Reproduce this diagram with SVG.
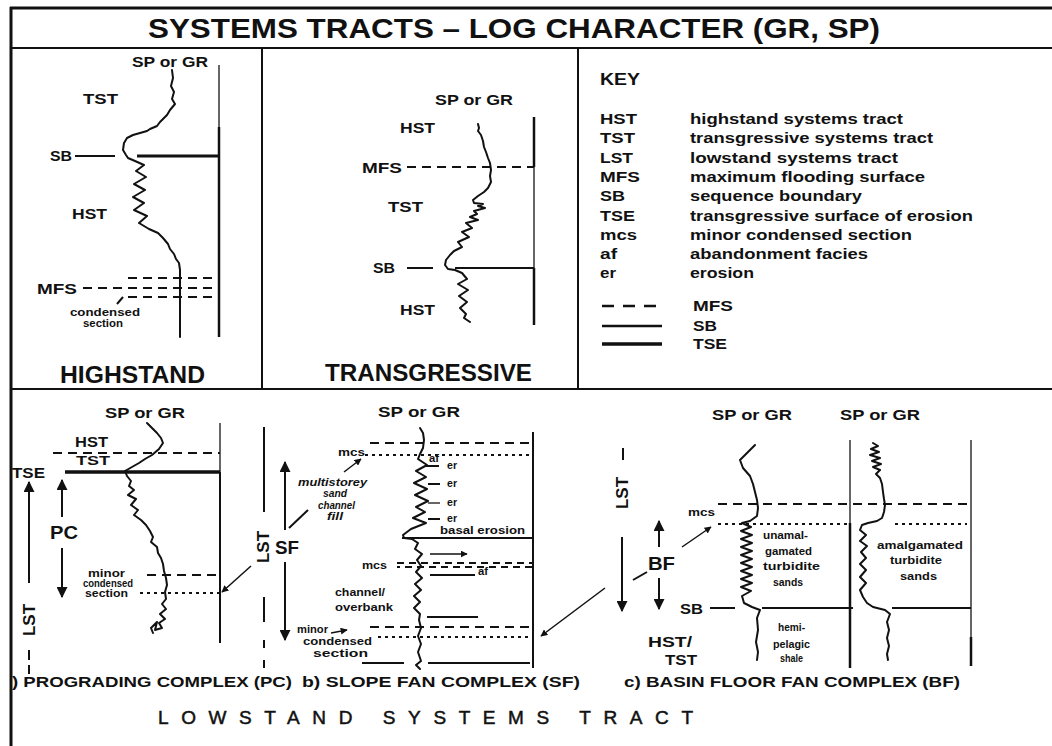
<svg xmlns="http://www.w3.org/2000/svg" width="1052" height="746" viewBox="0 0 1052 746">
<style>
text{font-family:"Liberation Sans",Arial,sans-serif;font-weight:bold;fill:#111}
.s15{font-size:15px}
.s11{font-size:11px}
.s10{font-size:10px}
.s18{font-size:18px}
.s23{font-size:23px}
.ln{stroke:#111;fill:none;stroke-width:2}
.thin{stroke:#333;fill:none;stroke-width:1.5}
.thk{stroke:#111;fill:none;stroke-width:3}
.dash{stroke:#111;fill:none;stroke-width:2;stroke-dasharray:9 6}
.dot{stroke:#111;fill:none;stroke-width:2;stroke-dasharray:3 4}
.log{stroke:#111;fill:none;stroke-width:2;stroke-linejoin:round;stroke-linecap:round}
.arr{stroke:#111;fill:none;stroke-width:2;marker-end:url(#ah)}
.sarr{stroke:#111;fill:none;stroke-width:1.5;marker-end:url(#sh)}
</style>
<defs>
<marker id="ah" viewBox="0 0 10 10" refX="9" refY="5" markerWidth="11" markerHeight="11" markerUnits="userSpaceOnUse" orient="auto"><path d="M0,0 L10,5 L0,10 Z" fill="#111"/></marker>
<marker id="sh" viewBox="0 0 10 10" refX="9" refY="5" markerWidth="7" markerHeight="7" markerUnits="userSpaceOnUse" orient="auto"><path d="M0,0 L10,5 L0,10 Z" fill="#111"/></marker>
</defs>
<rect width="1052" height="746" fill="#fff"/>

<g id="frame">
<line x1="10" y1="8" x2="1052" y2="8" stroke="#111" stroke-width="3"/>
<line x1="11" y1="7" x2="11" y2="746" stroke="#111" stroke-width="3"/>
<line x1="10" y1="48" x2="1052" y2="48" stroke="#111" stroke-width="2"/>
<line x1="10" y1="389" x2="1052" y2="389" stroke="#111" stroke-width="2"/>
<line x1="262" y1="48" x2="262" y2="389" stroke="#111" stroke-width="2"/>
<line x1="578" y1="48" x2="578" y2="389" stroke="#111" stroke-width="2"/>
<text x="148" y="38" style="font-size:28px" textLength="732" lengthAdjust="spacingAndGlyphs">SYSTEMS TRACTS – LOG CHARACTER (GR, SP)</text>
</g>

<g id="highstand">
<text class="s15" x="132" y="67" textLength="76" lengthAdjust="spacingAndGlyphs">SP or GR</text>
<text class="s15" x="83" y="104" textLength="35" lengthAdjust="spacingAndGlyphs">TST</text>
<text class="s15" x="50" y="161" textLength="22" lengthAdjust="spacingAndGlyphs">SB</text>
<text class="s15" x="72" y="219" textLength="35" lengthAdjust="spacingAndGlyphs">HST</text>
<text class="s15" x="37" y="294" textLength="40" lengthAdjust="spacingAndGlyphs">MFS</text>
<text class="s11" x="70" y="316" textLength="70" lengthAdjust="spacingAndGlyphs">condensed</text>
<text class="s11" x="83" y="327" textLength="40" lengthAdjust="spacingAndGlyphs">section</text>
<text class="s23" x="60" y="383" textLength="145" lengthAdjust="spacingAndGlyphs">HIGHSTAND</text>
<path class="log" d="M172,70 L173,78 L171,86 L174,92 L172,99 L175,104 L170,110 L167,115 L160,122 L157,126 L150,129 L147,131 L140,133 L133,135 L127,138 L124,143 L123,150 L126,155 L128,158 L135,161 L144,165 L136,171 L146,177 L134,184 L145,190 L133,197 L144,203 L134,210 L147,216 L139,223 L149,229 L158,233 L163,238 L168,244 L170,249 L174,254 L176,259 L179,263 L180,270 L180,337"/>
<line class="thin" x1="219" y1="65" x2="219" y2="127"/>
<line x1="219" y1="127" x2="219" y2="337" stroke="#111" stroke-width="2.5"/>
<line class="ln" x1="75" y1="156" x2="115" y2="156"/>
<line class="thk" x1="137" y1="156" x2="219" y2="156"/>
<line class="dash" x1="128" y1="278" x2="219" y2="278"/>
<line class="dash" x1="83" y1="288" x2="219" y2="288"/>
<line class="dash" x1="128" y1="297" x2="219" y2="297"/>
<line class="ln" x1="117" y1="304" x2="123" y2="297"/>
</g>

<g id="transgressive">
<text class="s15" x="435" y="105" textLength="78" lengthAdjust="spacingAndGlyphs">SP or GR</text>
<text class="s15" x="400" y="133" textLength="35" lengthAdjust="spacingAndGlyphs">HST</text>
<text class="s15" x="362" y="173" textLength="40" lengthAdjust="spacingAndGlyphs">MFS</text>
<text class="s15" x="388" y="212" textLength="35" lengthAdjust="spacingAndGlyphs">TST</text>
<text class="s15" x="373" y="273" textLength="22" lengthAdjust="spacingAndGlyphs">SB</text>
<text class="s15" x="400" y="315" textLength="35" lengthAdjust="spacingAndGlyphs">HST</text>
<text class="s23" x="325" y="381" textLength="207" lengthAdjust="spacingAndGlyphs">TRANSGRESSIVE</text>
<path class="log" d="M478,124 L479,128 L478,131 L481,135 L483,141 L484,147 L486,152 L488,158 L490,163 L491,170 L490,176 L491,182 L488,188 L484,192 L478,196 L473,200 L474,203 L483,204 L478,206 L485,208 L474,211 L477,214 L470,217 L478,220 L466,223 L472,228 L462,232 L469,237 L458,242 L462,247 L454,251 L450,255 L446,260 L445,265 L448,269 L455,270 L462,273 L467,279 L458,284 L468,290 L459,296 L467,302 L460,308 L466,314 L464,318 L470,322"/>
<line x1="534" y1="117" x2="534" y2="167" stroke="#111" stroke-width="2.5"/>
<line class="thin" x1="534" y1="167" x2="534" y2="268"/>
<line x1="534" y1="268" x2="534" y2="325" stroke="#111" stroke-width="2.5"/>
<line class="dash" x1="407" y1="167" x2="534" y2="167"/>
<line class="ln" x1="407" y1="268" x2="433" y2="268"/>
<line class="ln" x1="455" y1="268" x2="534" y2="268"/>
</g>

<g id="key">
<text x="600" y="85" style="font-size:16px" textLength="40" lengthAdjust="spacingAndGlyphs">KEY</text>
<g class="s15">
<text x="600" y="124" textLength="37" lengthAdjust="spacingAndGlyphs">HST</text>
<text x="600" y="143" textLength="35" lengthAdjust="spacingAndGlyphs">TST</text>
<text x="600" y="163" textLength="33" lengthAdjust="spacingAndGlyphs">LST</text>
<text x="600" y="182" textLength="40" lengthAdjust="spacingAndGlyphs">MFS</text>
<text x="600" y="201" textLength="25" lengthAdjust="spacingAndGlyphs">SB</text>
<text x="600" y="221" textLength="35" lengthAdjust="spacingAndGlyphs">TSE</text>
<text x="600" y="240" textLength="37" lengthAdjust="spacingAndGlyphs">mcs</text>
<text x="600" y="259" textLength="17" lengthAdjust="spacingAndGlyphs">af</text>
<text x="600" y="278" textLength="16" lengthAdjust="spacingAndGlyphs">er</text>
<text x="690" y="124" textLength="213" lengthAdjust="spacingAndGlyphs">highstand systems tract</text>
<text x="690" y="143" textLength="243" lengthAdjust="spacingAndGlyphs">transgressive systems tract</text>
<text x="690" y="163" textLength="208" lengthAdjust="spacingAndGlyphs">lowstand systems tract</text>
<text x="690" y="182" textLength="235" lengthAdjust="spacingAndGlyphs">maximum flooding surface</text>
<text x="690" y="201" textLength="172" lengthAdjust="spacingAndGlyphs">sequence boundary</text>
<text x="690" y="221" textLength="283" lengthAdjust="spacingAndGlyphs">transgressive surface of erosion</text>
<text x="690" y="240" textLength="222" lengthAdjust="spacingAndGlyphs">minor condensed section</text>
<text x="690" y="259" textLength="178" lengthAdjust="spacingAndGlyphs">abandonment facies</text>
<text x="690" y="278" textLength="64" lengthAdjust="spacingAndGlyphs">erosion</text>
<text x="693" y="311" textLength="40" lengthAdjust="spacingAndGlyphs">MFS</text>
<text x="693" y="331" textLength="24" lengthAdjust="spacingAndGlyphs">SB</text>
<text x="693" y="349" textLength="34" lengthAdjust="spacingAndGlyphs">TSE</text>
</g>
<line x1="602" y1="306" x2="662" y2="306" stroke="#111" stroke-width="2.5" stroke-dasharray="12 9"/>
<line x1="602" y1="326" x2="662" y2="326" stroke="#111" stroke-width="2.5"/>
<line x1="602" y1="344" x2="662" y2="344" stroke="#111" stroke-width="3.5"/>
</g>

<g id="prograding-complex">
<text class="s15" x="105" y="418" textLength="80" lengthAdjust="spacingAndGlyphs">SP or GR</text>
<text class="s15" x="75" y="447" textLength="33" lengthAdjust="spacingAndGlyphs">HST</text>
<text x="76" y="465" style="font-size:13px" textLength="34" lengthAdjust="spacingAndGlyphs">TST</text>
<text class="s15" x="12" y="478" textLength="33" lengthAdjust="spacingAndGlyphs">TSE</text>
<text class="s18" x="50" y="539" textLength="28" lengthAdjust="spacingAndGlyphs">PC</text>
<text x="29" y="626" transform="rotate(-90 29 620)" text-anchor="middle" style="font-size:17px" textLength="32" lengthAdjust="spacingAndGlyphs">LST</text>
<text class="s10" x="88" y="577" textLength="37" lengthAdjust="spacingAndGlyphs">minor</text>
<text class="s10" x="83" y="587" textLength="50" lengthAdjust="spacingAndGlyphs">condensed</text>
<text class="s10" x="85" y="597" textLength="43" lengthAdjust="spacingAndGlyphs">section</text>
<path class="log" d="M147,423 L152,428 L157,433 L161,438 L163,443 L159,449 L152,455 L145,459 L139,463 L132,467 L125,471 L127,476 L131,481 L129,486 L134,490 L128,495 L136,499 L131,505 L138,510 L134,515 L141,520 L146,525 L150,531 L153,537 L151,542 L157,547 L158,553 L161,558 L163,564 L164,571 L166,578 L167,585 L165,592 L166,599 L162,604 L166,609 L160,614 L165,619 L159,623 L162,628 L155,630 L157,622 L151,628 L153,633"/>
<line class="thin" x1="220" y1="423" x2="220" y2="472" stroke="#666"/>
<line class="ln" x1="220" y1="472" x2="220" y2="643"/>
<line class="dash" x1="53" y1="453" x2="220" y2="453"/>
<line x1="65" y1="472" x2="220" y2="472" stroke="#111" stroke-width="3.5"/>
<line class="dash" x1="147" y1="575" x2="220" y2="575"/>
<line class="dot" x1="140" y1="593" x2="220" y2="593"/>
<line class="ln" x1="29" y1="650" x2="29" y2="660"/>
<line class="ln" x1="29" y1="665" x2="29" y2="674"/>
</g>

<g id="slope-fan-complex">
<text class="s15" x="378" y="417" textLength="82" lengthAdjust="spacingAndGlyphs">SP or GR</text>
<text x="263" y="553" transform="rotate(-90 263 547)" text-anchor="middle" style="font-size:17px" textLength="32" lengthAdjust="spacingAndGlyphs">LST</text>
<text class="s18" x="275" y="554" textLength="24" lengthAdjust="spacingAndGlyphs">SF</text>
<text class="s10" x="338" y="456" textLength="27" lengthAdjust="spacingAndGlyphs">mcs</text>
<text class="s10" x="298" y="486" textLength="69" lengthAdjust="spacingAndGlyphs" font-style="italic">multistorey</text>
<text class="s10" x="323" y="497" textLength="24" lengthAdjust="spacingAndGlyphs" font-style="italic">sand</text>
<text class="s10" x="318" y="509" textLength="37" lengthAdjust="spacingAndGlyphs" font-style="italic">channel</text>
<text class="s10" x="327" y="520" textLength="16" lengthAdjust="spacingAndGlyphs" font-style="italic">fill</text>
<text class="s10" x="429" y="462" textLength="10" lengthAdjust="spacingAndGlyphs">af</text>
<text class="s10" x="447" y="469" textLength="10" lengthAdjust="spacingAndGlyphs">er</text>
<text class="s10" x="447" y="487" textLength="10" lengthAdjust="spacingAndGlyphs">er</text>
<text class="s10" x="447" y="506" textLength="10" lengthAdjust="spacingAndGlyphs">er</text>
<text class="s10" x="447" y="522" textLength="10" lengthAdjust="spacingAndGlyphs">er</text>
<text class="s11" x="440" y="534" textLength="85" lengthAdjust="spacingAndGlyphs">basal erosion</text>
<text class="s10" x="362" y="569" textLength="25" lengthAdjust="spacingAndGlyphs">mcs</text>
<text class="s10" x="478" y="575" textLength="10" lengthAdjust="spacingAndGlyphs">af</text>
<text class="s11" x="335" y="596" textLength="50" lengthAdjust="spacingAndGlyphs">channel/</text>
<text class="s11" x="335" y="611" textLength="58" lengthAdjust="spacingAndGlyphs">overbank</text>
<text class="s11" x="297" y="633" textLength="31" lengthAdjust="spacingAndGlyphs">minor</text>
<text class="s11" x="303" y="645" textLength="69" lengthAdjust="spacingAndGlyphs">condensed</text>
<text class="s11" x="313" y="657" textLength="55" lengthAdjust="spacingAndGlyphs">section</text>
<path class="log" d="M420,428 L423,433 L424,440 L423,448 L420,454 L418,459 L427,465 L416,471 L426,477 L414,483 L427,489 L415,495 L428,501 L416,507 L425,512 L413,518 L426,523 L411,529 L403,535 L404,538 L412,539 L418,543 L415,549 L422,554 L417,560 L421,566 L416,572 L422,578 L415,584 L421,590 L414,596 L420,602 L414,608 L420,614 L419,620 L421,628 L418,636 L421,644 L418,652 L420,658 L421,661 L416,665 L420,669"/>
<line class="ln" x1="264" y1="427" x2="264" y2="512"/>
<line class="ln" x1="264" y1="597" x2="264" y2="622"/>
<line class="ln" x1="264" y1="640" x2="264" y2="648"/>
<line class="ln" x1="264" y1="660" x2="264" y2="668"/>
<line class="ln" x1="533" y1="432" x2="533" y2="668"/>
<line class="dash" x1="370" y1="443" x2="533" y2="443"/>
<line class="dot" x1="365" y1="455" x2="533" y2="455"/>
<line class="ln" x1="426" y1="466" x2="439" y2="466"/>
<line class="ln" x1="428" y1="484" x2="440" y2="484"/>
<line class="thin" x1="428" y1="503" x2="440" y2="503"/>
<line class="ln" x1="428" y1="519" x2="440" y2="519"/>
<line class="ln" x1="402" y1="538" x2="533" y2="538"/>
<line class="sarr" x1="430" y1="554" x2="467" y2="554"/>
<line x1="397" y1="563" x2="533" y2="563" stroke="#111" stroke-width="1.8" stroke-dasharray="7 5"/>
<line x1="397" y1="567" x2="533" y2="567" stroke="#111" stroke-width="1.8" stroke-dasharray="7 5" stroke-dashoffset="4"/>
<line class="ln" x1="430" y1="575" x2="475" y2="575"/>
<line class="ln" x1="427" y1="617" x2="478" y2="617"/>
<line class="dash" x1="370" y1="627" x2="533" y2="627"/>
<line class="dot" x1="378" y1="637" x2="533" y2="637"/>
<line class="ln" x1="362" y1="663" x2="404" y2="663"/>
<line class="ln" x1="428" y1="663" x2="530" y2="663"/>
</g>

<g id="basin-floor-fan-complex">
<text class="s15" x="712" y="420" textLength="80" lengthAdjust="spacingAndGlyphs">SP or GR</text>
<text class="s15" x="840" y="420" textLength="80" lengthAdjust="spacingAndGlyphs">SP or GR</text>
<text x="622" y="499" transform="rotate(-90 622 493)" text-anchor="middle" style="font-size:17px" textLength="32" lengthAdjust="spacingAndGlyphs">LST</text>
<text class="s10" x="688" y="516" textLength="27" lengthAdjust="spacingAndGlyphs">mcs</text>
<text class="s18" x="648" y="570" textLength="27" lengthAdjust="spacingAndGlyphs">BF</text>
<text class="s15" x="680" y="614" textLength="23" lengthAdjust="spacingAndGlyphs">SB</text>
<text class="s15" x="648" y="647" textLength="44" lengthAdjust="spacingAndGlyphs">HST/</text>
<text class="s15" x="665" y="665" textLength="32" lengthAdjust="spacingAndGlyphs">TST</text>
<text class="s10" x="763" y="539" textLength="45" lengthAdjust="spacingAndGlyphs">unamal-</text>
<text class="s10" x="765" y="555" textLength="47" lengthAdjust="spacingAndGlyphs">gamated</text>
<text class="s10" x="763" y="570" textLength="57" lengthAdjust="spacingAndGlyphs">turbidite</text>
<text class="s10" x="773" y="586" textLength="30" lengthAdjust="spacingAndGlyphs">sands</text>
<text class="s10" x="778" y="631" textLength="27" lengthAdjust="spacingAndGlyphs">hemi-</text>
<text class="s10" x="773" y="648" textLength="37" lengthAdjust="spacingAndGlyphs">pelagic</text>
<text class="s10" x="780" y="662" textLength="23" lengthAdjust="spacingAndGlyphs">shale</text>
<text class="s10" x="877" y="549" textLength="86" lengthAdjust="spacingAndGlyphs">amalgamated</text>
<text class="s10" x="890" y="564" textLength="52" lengthAdjust="spacingAndGlyphs">turbidite</text>
<text class="s10" x="900" y="580" textLength="37" lengthAdjust="spacingAndGlyphs">sands</text>
<line class="ln" x1="623" y1="448" x2="623" y2="460"/>
<line class="dash" x1="718" y1="504" x2="967" y2="504"/>
<line class="dot" x1="718" y1="524" x2="850" y2="524"/>
<line class="dot" x1="895" y1="524" x2="967" y2="524"/>
<path class="log" d="M755,445 L748,452 L740,460 L743,468 L750,476 L753,484 L755,492 L757,500 L758,508 L757,516 L750,521 L742,523 L751,527 L741,531 L752,535 L741,539 L752,543 L741,547 L752,551 L741,555 L752,559 L741,563 L752,567 L741,571 L752,575 L741,579 L752,583 L741,587 L751,591 L742,596 L744,603 L752,607 L760,610 L757,618 L758,630 L756,642 L758,652 L757,660"/>
<line class="thin" x1="850" y1="440" x2="850" y2="523" stroke="#555"/>
<line x1="850" y1="523" x2="850" y2="668" stroke="#111" stroke-width="2.5"/>
<path class="log" d="M873,443 L878,446 L871,449 L879,452 L870,455 L880,458 L872,461 L881,464 L873,467 L880,470 L876,474 L880,478 L882,484 L883,492 L884,499 L885,505 L884,512 L882,518 L877,521 L868,523 L862,525 L860,530 L866,535 L860,541 L867,546 L861,552 L866,558 L860,564 L866,570 L860,577 L866,583 L860,590 L863,597 L867,603 L873,607 L885,610 L890,614 L887,622 L889,630 L887,638 L889,646 L887,654 L888,660"/>
<line class="thin" x1="971" y1="440" x2="971" y2="637"/>
<line x1="971" y1="637" x2="971" y2="666" stroke="#111" stroke-width="2.5"/>
<line class="ln" x1="710" y1="608" x2="735" y2="608"/>
<line class="ln" x1="762" y1="608" x2="853" y2="608"/>
<line class="ln" x1="892" y1="608" x2="971" y2="608"/>
</g>

<g id="captions">
<text class="s15" x="12" y="687" textLength="280" lengthAdjust="spacingAndGlyphs">) PROGRADING COMPLEX (PC)</text>
<text class="s15" x="302" y="687" textLength="278" lengthAdjust="spacingAndGlyphs">b) SLOPE FAN COMPLEX (SF)</text>
<text class="s15" x="624" y="687" textLength="336" lengthAdjust="spacingAndGlyphs">c) BASIN FLOOR FAN COMPLEX (BF)</text>
<text x="158" y="724" style="font-size:19px;font-weight:normal;stroke:#111;stroke-width:0.5" textLength="535" lengthAdjust="spacing">LOWSTAND SYSTEMS TRACT</text>
</g>

<g id="connectors">
<line class="arr" x1="29" y1="583" x2="29" y2="482"/>
<line class="arr" x1="62" y1="517" x2="62" y2="480"/>
<line class="arr" x1="62" y1="548" x2="62" y2="597"/>
<line class="sarr" x1="251" y1="566" x2="222" y2="592"/>
<line class="arr" x1="285" y1="530" x2="285" y2="462"/>
<line class="arr" x1="285" y1="562" x2="285" y2="640"/>
<line class="ln" x1="289" y1="528" x2="308" y2="510"/>
<line class="sarr" x1="344" y1="472" x2="361" y2="459"/>
<line class="sarr" x1="331" y1="633" x2="347" y2="630"/>
<line class="arr" x1="622" y1="537" x2="622" y2="611"/>
<line class="arr" x1="659" y1="547" x2="659" y2="521"/>
<line class="arr" x1="659" y1="578" x2="659" y2="609"/>
<line class="sarr" x1="682" y1="547" x2="711" y2="527"/>
<line class="ln" x1="633" y1="580" x2="647" y2="572"/>
<line class="sarr" x1="605" y1="588" x2="541" y2="636"/>
</g>
</svg>
